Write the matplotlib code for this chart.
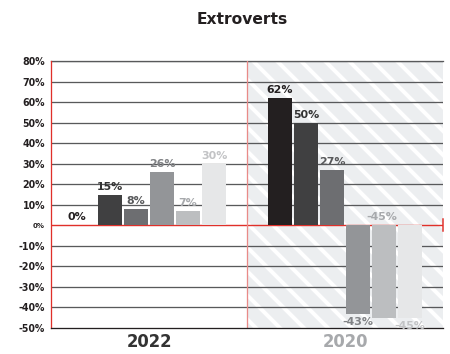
import numpy as np
import matplotlib
matplotlib.use("Agg")
import matplotlib.pyplot as plt
from matplotlib.transforms import blended_transform_factory

# valores por ano (ordem das séries = ordem das barras dentro de cada grupo)
anos = ["2022", "2020"]
serie_1 = [0, 62]
serie_2 = [15, 50]
serie_3 = [8, 27]
serie_4 = [26, -43]
serie_5 = [7, -45]
serie_6 = [30, -45]
series = [serie_1, serie_2, serie_3, serie_4, serie_5, serie_6]

cores_barras = ["#231f20", "#404041", "#6d6e71", "#939598", "#bcbec0", "#e6e7e8"]
cores_rotulos = ["#231f20", "#333333", "#58595b", "#808285", "#a7a9ac", "#c2c3c5"]
cores_anos = ["#333333", "#a7a9ac"]
y_ticks = list(range(-50, 90, 10))

plt.rcParams["font.family"] = ["DejaVu Sans"]
plt.rcParams["hatch.linewidth"] = 4

# dpi 72: 1 ponto = 1 pixel
fig = plt.figure(figsize=(450 / 72, 354 / 72), dpi=72)
ax = fig.add_axes([51 / 450, 1 - 328 / 354, 392 / 450, 267 / 354])

x = np.arange(len(anos))
passo = 0.1327
largura = 0.1224

# fundo listrado da segunda metade
ax.axvspan(0.5, 1.5, facecolor="#eceef0", edgecolor="white", linewidth=0,
           hatch="\\", zorder=0)

# linhas horizontais
for v in y_ticks:
    if v == 0 or v == -50:
        continue
    ax.axhline(v, color="#58595b", linewidth=1.3, zorder=1)
ax.axhline(0, color="#e0302a", linewidth=1.4, zorder=2)
ax.axvline(0.5, color="#e98a88", linewidth=1.3, zorder=2)

trans = blended_transform_factory(ax.transAxes, ax.transData)
ax.plot([1, 1], [-3, 3], color="#e0302a", linewidth=1.5, transform=trans,
        clip_on=False, zorder=3)

for i, valores in enumerate(series):
    pos = x + (i - 2.5) * passo
    ax.bar(pos, valores, width=largura, color=cores_barras[i], zorder=3)
    for j, v in enumerate(valores):
        dx = 0
        if v >= 0:
            dy, va = 3, "bottom"
        else:
            dy, va = -3, "top"
        base = v
        if i == 4 and j == 1:
            # rótulo deslocado para cima da linha zero
            base, dy, va, dx = 0, 3, "bottom", -2
        if i == 0 and j == 0:
            dx = -7
        ax.annotate(f"{v}%", (pos[j], base), xytext=(dx, dy),
                    textcoords="offset points", ha="center", va=va,
                    fontsize=11, fontweight="bold", color=cores_rotulos[i],
                    zorder=4)

ax.set_xlim(-0.5, 1.5)
ax.set_ylim(-50, 80)
ax.set_yticks(y_ticks)
ax.set_yticklabels([f"{v}%" for v in y_ticks], fontsize=9.5, fontweight="bold",
                   color="#231f20")
for lbl in ax.get_yticklabels():
    if lbl.get_text() == "0%":
        lbl.set_fontsize(7)
ax.set_xticks(x)
ax.set_xticklabels(anos, fontsize=16.5, fontweight="bold")
for lbl, c in zip(ax.get_xticklabels(), cores_anos):
    lbl.set_color(c)
ax.tick_params(axis="both", length=0)
ax.tick_params(axis="y", pad=6)
ax.tick_params(axis="x", pad=5)

for lado in ["top", "right"]:
    ax.spines[lado].set_visible(False)
ax.spines["left"].set_color("#e0302a")
ax.spines["left"].set_linewidth(1.3)
ax.spines["bottom"].set_color("#231f20")
ax.spines["bottom"].set_linewidth(1.3)
ax.axhline(80, color="#58595b", linewidth=1.3, zorder=1, clip_on=False)

fig.text(242 / 450, 1 - 20 / 354, "Extroverts", ha="center", va="center",
         fontsize=15.5, fontweight="bold", color="#231f20")

fig.savefig("out.png", dpi=72)
